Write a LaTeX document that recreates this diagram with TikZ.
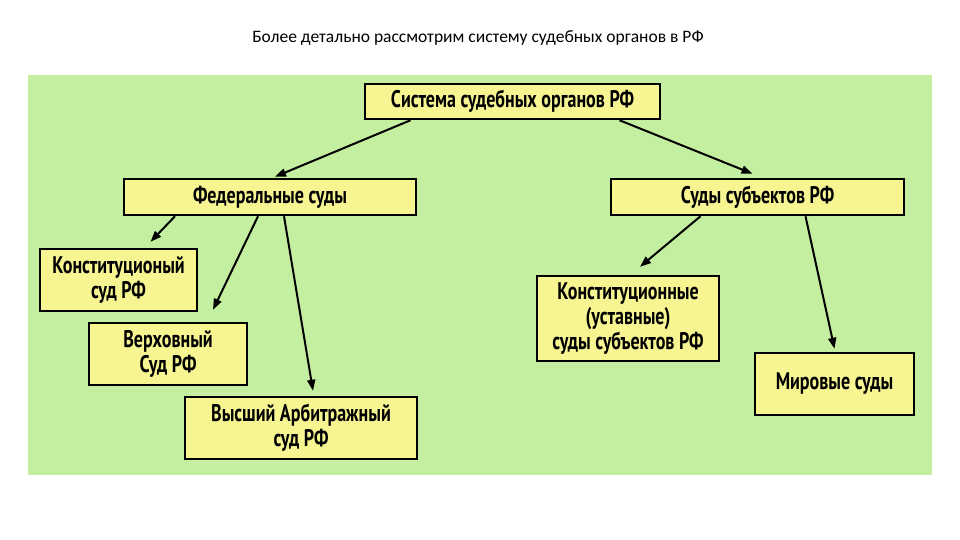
\documentclass[tikz,border=0pt]{standalone}
\usepackage{fontspec}
\setmainfont{Carlito}
\newfontfamily\boxfont{PT Sans}
\usetikzlibrary{arrows.meta,calc}
\definecolor{bggreen}{HTML}{C4EEA0}
\definecolor{boxyel}{HTML}{F6F592}
\begin{document}
\begin{tikzpicture}[x=1pt,y=-1pt,
  box/.style={draw=black,line width=2.5pt,fill=boxyel,inner sep=2pt,align=center,
    font=\boxfont\bfseries\fontsize{24}{24}\selectfont},
  arr/.style={line width=2pt,-{Triangle[length=11pt,width=8pt]}}]
\useasboundingbox (0,0) rectangle (960,540);
\fill[white] (0,0) rectangle (960,540);
\node[font=\fontsize{17.5}{20}\selectfont] (title) at (478,38) {Более детально рассмотрим систему судебных органов в РФ};
\fill[bggreen] (28,75) rectangle (932,475);
\node[box,minimum width=295pt,minimum height=35pt] (top) at (512.5,101.5) {\scalebox{0.75}[1]{Система судебных органов РФ}};
\node[box,minimum width=292pt,minimum height=36pt] (fed) at (270,197) {\scalebox{0.75}[1]{Федеральные суды}};
\node[box,minimum width=293pt,minimum height=36pt] (subj) at (757.5,197) {\scalebox{0.75}[1]{Суды субъектов РФ}};
\node[box,minimum width=157pt,minimum height=62pt] (konst) at (118.5,280) {\scalebox{0.75}[1]{\shortstack{Конституционый\\суд РФ}}};
\node[box,minimum width=158pt,minimum height=62pt] (verh) at (168,354) {\scalebox{0.75}[1]{\shortstack{Верховный\\Суд РФ}}};
\node[box,minimum width=232pt,minimum height=62pt] (vys) at (301,428) {\scalebox{0.75}[1]{\shortstack{Высший Арбитражный\\суд РФ}}};
\node[box,minimum width=182pt,minimum height=85pt] (ksub) at (628,318.5) {\scalebox{0.75}[1]{\shortstack{Конституционные\\(уставные)\\суды субъектов РФ}}};
\node[box,minimum width=159pt,minimum height=62pt] (mir) at (834.5,384) {\scalebox{0.75}[1]{Мировые суды}};
\draw[arr] ([xshift=-102pt]top.south) -- ([xshift=5pt,yshift=1pt]fed.north);
\draw[arr] ([xshift=107pt]top.south) -- ([xshift=-5pt,yshift=4pt]subj.north);
\draw[arr] ([xshift=-95pt]fed.south) -- ([xshift=32pt,yshift=6pt]konst.north);
\draw[arr] ([xshift=-12pt]fed.south) -- ([xshift=45pt,yshift=12pt]verh.north);
\draw[arr] ([xshift=14pt]fed.south) -- ([xshift=12pt,yshift=5pt]vys.north);
\draw[arr] ([xshift=-57pt]subj.south) -- ([xshift=12pt,yshift=8pt]ksub.north);
\draw[arr] ([xshift=48pt]subj.south) -- ([xshift=0pt,yshift=3pt]mir.north);
\end{tikzpicture}
\end{document}
